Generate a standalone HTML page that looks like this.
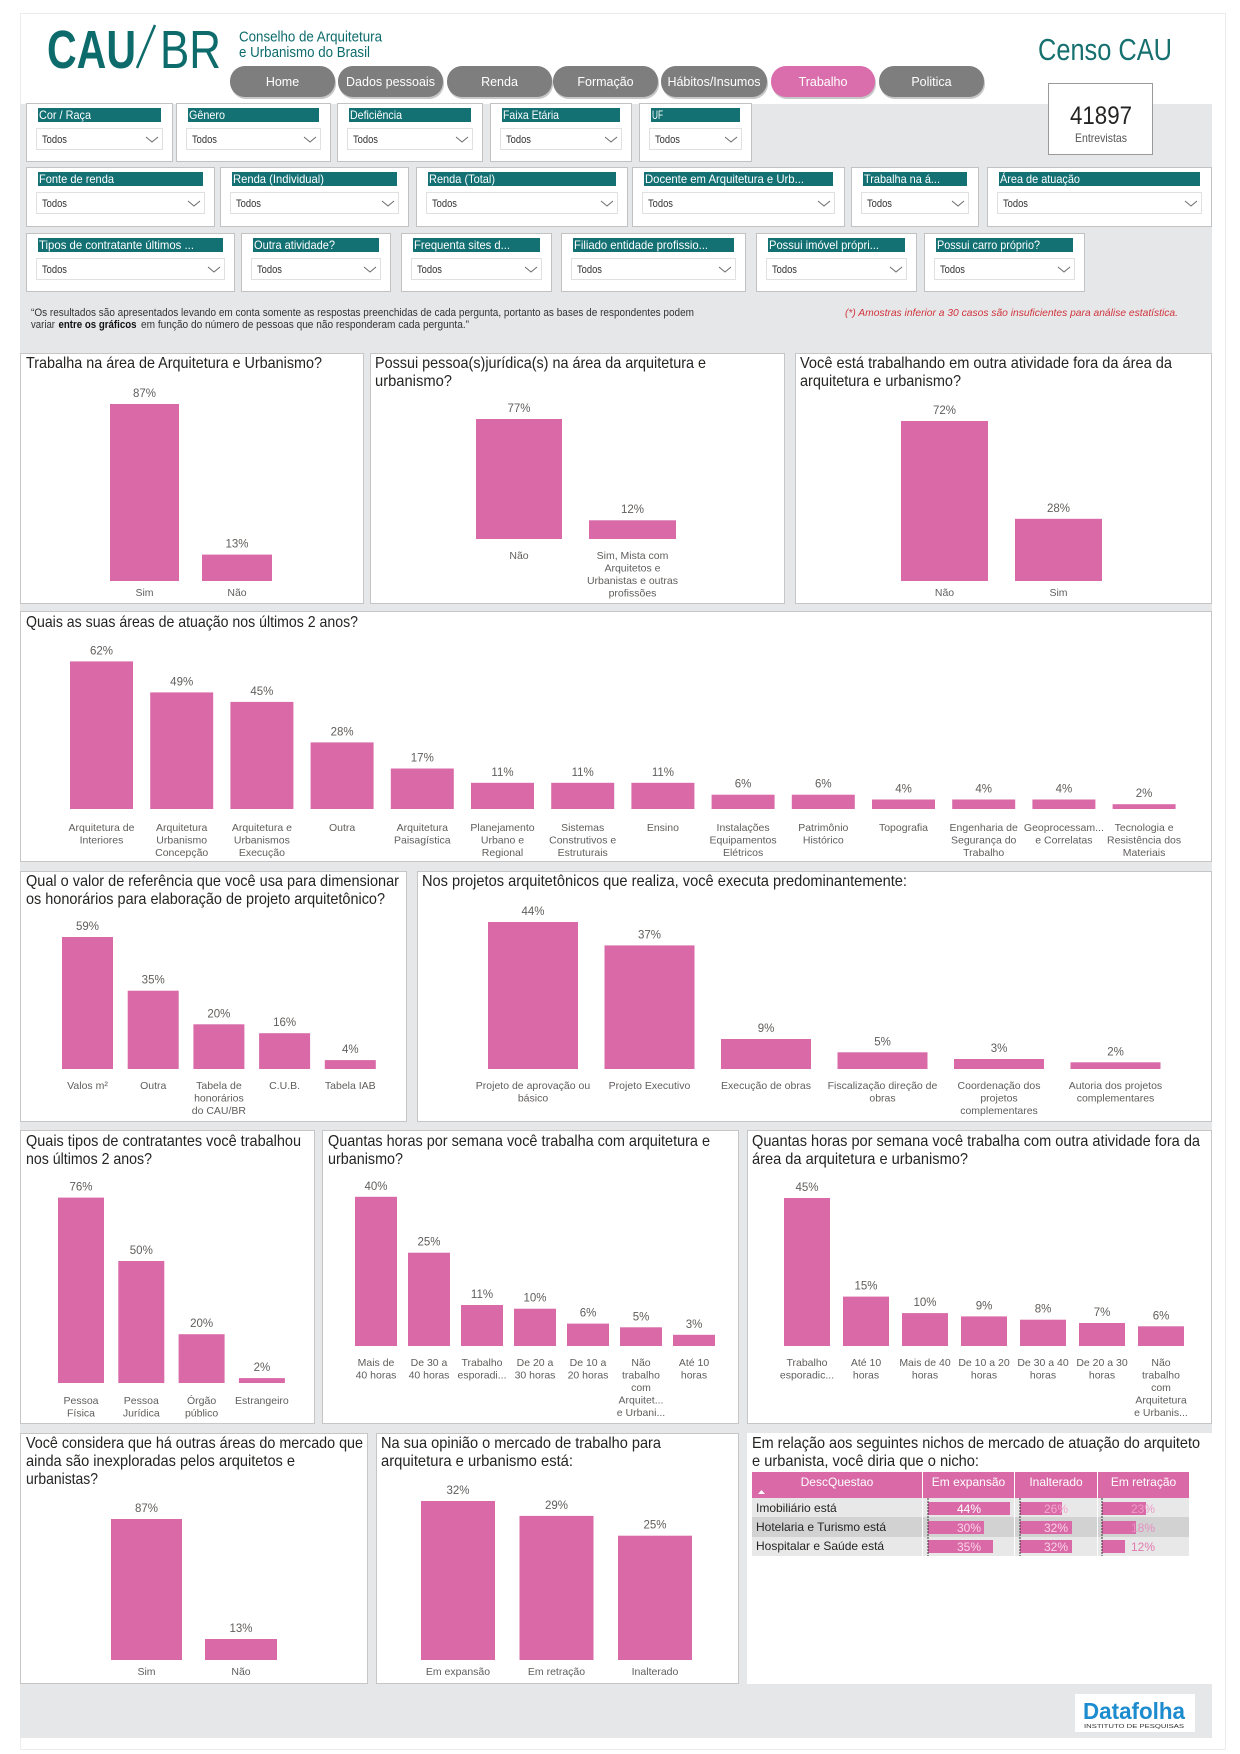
<!DOCTYPE html>
<html><head><meta charset="utf-8">
<style>
html,body{margin:0;padding:0;background:#fff;}
body{width:1240px;height:1754px;overflow:hidden;}
svg{display:block;font-family:"Liberation Sans Narrow","Liberation Sans","DejaVu Sans Condensed",sans-serif;}
.b{fill:#d96aa7;}
.v{font-size:11.5px;fill:#605e5c;text-anchor:middle;}
.c{font-size:10.5px;fill:#605e5c;text-anchor:middle;}
.t{font-size:16px;fill:#252423;}
.p{fill:#fff;stroke:#c6c6c6;stroke-width:1;}
.fb{fill:#fff;stroke:#c2c2c2;}
.fh{fill:#137073;}
.ft{font-size:12px;fill:#fff;}
.fdd{fill:#fff;stroke:#e0e0e0;}
.fd{font-size:11px;fill:#333;}
.ch{fill:none;stroke:#6a6a6a;stroke-width:1;}
.tab{fill:#7e7e7e;}
.tabs{fill:#000;opacity:.22;}
.tt{font-size:12.5px;fill:#fff;text-anchor:middle;}
.th{font-size:12px;fill:#fff;text-anchor:middle;}
.tr{font-size:12px;fill:#252423;}
.tv{font-size:12px;text-anchor:middle;}
</style></head>
<body>
<svg width="1240" height="1754" viewBox="0 0 1240 1754" xmlns="http://www.w3.org/2000/svg">
<rect width="1240" height="1754" fill="#fff"/>
<rect x="20.5" y="13.5" width="1205" height="1736" fill="none" stroke="#ececec"/>
<rect x="20" y="104" width="1192" height="1634" fill="#e6e7e9"/>

<!-- Logo -->
<text x="47" y="68" font-size="54" font-weight="bold" fill="#0d6b6b" textLength="89" lengthAdjust="spacingAndGlyphs">CAU</text>
<line x1="137" y1="68" x2="155" y2="25" stroke="#0d6b6b" stroke-width="2.5"/>
<text x="160" y="68" font-size="54" fill="#0d6b6b" textLength="61" lengthAdjust="spacingAndGlyphs">BR</text>
<text x="239" y="41.5" font-size="15" fill="#0d6b6b" textLength="143" lengthAdjust="spacingAndGlyphs">Conselho de Arquitetura</text>
<text x="239" y="57" font-size="15" fill="#0d6b6b" textLength="131" lengthAdjust="spacingAndGlyphs">e Urbanismo do Brasil</text>

<!-- Tabs -->
<g>
<rect class="tabs" x="231" y="68" width="105" height="31" rx="15"/><rect class="tab" x="230" y="66" width="105" height="31" rx="15"/><text class="tt" x="282.5" y="86">Home</text>
<rect class="tabs" x="339" y="68" width="105" height="31" rx="15"/><rect class="tab" x="338" y="66" width="105" height="31" rx="15"/><text class="tt" x="390.5" y="86">Dados pessoais</text>
<rect class="tabs" x="448" y="68" width="105" height="31" rx="15"/><rect class="tab" x="447" y="66" width="105" height="31" rx="15"/><text class="tt" x="499.5" y="86">Renda</text>
<rect class="tabs" x="554" y="68" width="105" height="31" rx="15"/><rect class="tab" x="553" y="66" width="105" height="31" rx="15"/><text class="tt" x="605.5" y="86">Formação</text>
<rect class="tabs" x="662" y="68" width="106" height="31" rx="15"/><rect class="tab" x="661" y="66" width="106" height="31" rx="15"/><text class="tt" x="714" y="86">Hábitos/Insumos</text>
<rect class="tabs" x="772" y="68" width="104" height="31" rx="15"/><rect x="771" y="66" width="104" height="31" rx="15" fill="#da6dab"/><text class="tt" x="823" y="86">Trabalho</text>
<rect class="tabs" x="880" y="68" width="105" height="31" rx="15"/><rect class="tab" x="879" y="66" width="105" height="31" rx="15"/><text class="tt" x="931.5" y="86">Politica</text>
</g>

<!-- Censo CAU -->
<text x="1038" y="60" font-size="31" fill="#16706f" textLength="134" lengthAdjust="spacingAndGlyphs">Censo CAU</text>
<rect x="1048.5" y="83.5" width="104" height="71" fill="#fff" stroke="#9a9a9a"/>
<text x="1070" y="124" font-size="25" fill="#252423" textLength="62" lengthAdjust="spacingAndGlyphs">41897</text>
<text x="1075" y="142" font-size="12" fill="#555" textLength="52" lengthAdjust="spacingAndGlyphs">Entrevistas</text>

<!-- Filters row 1 -->
<g transform="translate(26,103)"><rect class="fb" x=".5" y=".5" width="146" height="58"/><rect class="fh" x="12" y="5" width="123" height="14"/><text class="ft" x="13" y="16" textLength="52" lengthAdjust="spacingAndGlyphs">Cor / Raça</text><rect class="fdd" x="10.5" y="25.5" width="126" height="21"/><text class="fd" x="16" y="40" textLength="25" lengthAdjust="spacingAndGlyphs">Todos</text><path class="ch" d="M120 34 l6 5 l6 -5"/></g>
<g transform="translate(176,103)"><rect class="fb" x=".5" y=".5" width="154" height="58"/><rect class="fh" x="12" y="5" width="131" height="14"/><text class="ft" x="13" y="16" textLength="36" lengthAdjust="spacingAndGlyphs">Gênero</text><rect class="fdd" x="10.5" y="25.5" width="134" height="21"/><text class="fd" x="16" y="40" textLength="25" lengthAdjust="spacingAndGlyphs">Todos</text><path class="ch" d="M128 34 l6 5 l6 -5"/></g>
<g transform="translate(337,103)"><rect class="fb" x=".5" y=".5" width="145" height="58"/><rect class="fh" x="12" y="5" width="122" height="14"/><text class="ft" x="13" y="16" textLength="52" lengthAdjust="spacingAndGlyphs">Deficiência</text><rect class="fdd" x="10.5" y="25.5" width="125" height="21"/><text class="fd" x="16" y="40" textLength="25" lengthAdjust="spacingAndGlyphs">Todos</text><path class="ch" d="M119 34 l6 5 l6 -5"/></g>
<g transform="translate(490,103)"><rect class="fb" x=".5" y=".5" width="141" height="58"/><rect class="fh" x="12" y="5" width="118" height="14"/><text class="ft" x="13" y="16" textLength="56" lengthAdjust="spacingAndGlyphs">Faixa Etária</text><rect class="fdd" x="10.5" y="25.5" width="121" height="21"/><text class="fd" x="16" y="40" textLength="25" lengthAdjust="spacingAndGlyphs">Todos</text><path class="ch" d="M115 34 l6 5 l6 -5"/></g>
<g transform="translate(639,103)"><rect class="fb" x=".5" y=".5" width="112" height="58"/><rect class="fh" x="12" y="5" width="89" height="14"/><text class="ft" x="13" y="16" textLength="11" lengthAdjust="spacingAndGlyphs">UF</text><rect class="fdd" x="10.5" y="25.5" width="92" height="21"/><text class="fd" x="16" y="40" textLength="25" lengthAdjust="spacingAndGlyphs">Todos</text><path class="ch" d="M86 34 l6 5 l6 -5"/></g>

<!-- Filters row 2 -->
<g transform="translate(26,167)"><rect class="fb" x=".5" y=".5" width="188" height="59"/><rect class="fh" x="12" y="5" width="165" height="14"/><text class="ft" x="13" y="16" textLength="75" lengthAdjust="spacingAndGlyphs">Fonte de renda</text><rect class="fdd" x="10.5" y="25.5" width="168" height="21"/><text class="fd" x="16" y="40" textLength="25" lengthAdjust="spacingAndGlyphs">Todos</text><path class="ch" d="M162 34 l6 5 l6 -5"/></g>
<g transform="translate(220,167)"><rect class="fb" x=".5" y=".5" width="188" height="59"/><rect class="fh" x="12" y="5" width="165" height="14"/><text class="ft" x="13" y="16" textLength="91" lengthAdjust="spacingAndGlyphs">Renda (Individual)</text><rect class="fdd" x="10.5" y="25.5" width="168" height="21"/><text class="fd" x="16" y="40" textLength="25" lengthAdjust="spacingAndGlyphs">Todos</text><path class="ch" d="M162 34 l6 5 l6 -5"/></g>
<g transform="translate(416,167)"><rect class="fb" x=".5" y=".5" width="211" height="59"/><rect class="fh" x="12" y="5" width="188" height="14"/><text class="ft" x="13" y="16" textLength="66" lengthAdjust="spacingAndGlyphs">Renda (Total)</text><rect class="fdd" x="10.5" y="25.5" width="191" height="21"/><text class="fd" x="16" y="40" textLength="25" lengthAdjust="spacingAndGlyphs">Todos</text><path class="ch" d="M185 34 l6 5 l6 -5"/></g>
<g transform="translate(632,167)"><rect class="fb" x=".5" y=".5" width="212" height="59"/><rect class="fh" x="12" y="5" width="189" height="14"/><text class="ft" x="13" y="16" textLength="159" lengthAdjust="spacingAndGlyphs">Docente em Arquitetura e Urb...</text><rect class="fdd" x="10.5" y="25.5" width="192" height="21"/><text class="fd" x="16" y="40" textLength="25" lengthAdjust="spacingAndGlyphs">Todos</text><path class="ch" d="M186 34 l6 5 l6 -5"/></g>
<g transform="translate(851,167)"><rect class="fb" x=".5" y=".5" width="127" height="59"/><rect class="fh" x="12" y="5" width="104" height="14"/><text class="ft" x="13" y="16" textLength="76" lengthAdjust="spacingAndGlyphs">Trabalha na á...</text><rect class="fdd" x="10.5" y="25.5" width="107" height="21"/><text class="fd" x="16" y="40" textLength="25" lengthAdjust="spacingAndGlyphs">Todos</text><path class="ch" d="M101 34 l6 5 l6 -5"/></g>
<g transform="translate(987,167)"><rect class="fb" x=".5" y=".5" width="224" height="59"/><rect class="fh" x="12" y="5" width="201" height="14"/><text class="ft" x="13" y="16" textLength="80" lengthAdjust="spacingAndGlyphs">Área de atuação</text><rect class="fdd" x="10.5" y="25.5" width="204" height="21"/><text class="fd" x="16" y="40" textLength="25" lengthAdjust="spacingAndGlyphs">Todos</text><path class="ch" d="M198 34 l6 5 l6 -5"/></g>

<!-- Filters row 3 -->
<g transform="translate(26,233)"><rect class="fb" x=".5" y=".5" width="208" height="58"/><rect class="fh" x="12" y="5" width="185" height="14"/><text class="ft" x="13" y="16" textLength="155" lengthAdjust="spacingAndGlyphs">Tipos de contratante últimos ...</text><rect class="fdd" x="10.5" y="25.5" width="188" height="21"/><text class="fd" x="16" y="40" textLength="25" lengthAdjust="spacingAndGlyphs">Todos</text><path class="ch" d="M182 34 l6 5 l6 -5"/></g>
<g transform="translate(241,233)"><rect class="fb" x=".5" y=".5" width="149" height="58"/><rect class="fh" x="12" y="5" width="126" height="14"/><text class="ft" x="13" y="16" textLength="81" lengthAdjust="spacingAndGlyphs">Outra atividade?</text><rect class="fdd" x="10.5" y="25.5" width="129" height="21"/><text class="fd" x="16" y="40" textLength="25" lengthAdjust="spacingAndGlyphs">Todos</text><path class="ch" d="M123 34 l6 5 l6 -5"/></g>
<g transform="translate(401,233)"><rect class="fb" x=".5" y=".5" width="150" height="58"/><rect class="fh" x="12" y="5" width="127" height="14"/><text class="ft" x="13" y="16" textLength="96" lengthAdjust="spacingAndGlyphs">Frequenta sites d...</text><rect class="fdd" x="10.5" y="25.5" width="130" height="21"/><text class="fd" x="16" y="40" textLength="25" lengthAdjust="spacingAndGlyphs">Todos</text><path class="ch" d="M124 34 l6 5 l6 -5"/></g>
<g transform="translate(561,233)"><rect class="fb" x=".5" y=".5" width="184" height="58"/><rect class="fh" x="12" y="5" width="161" height="14"/><text class="ft" x="13" y="16" textLength="134" lengthAdjust="spacingAndGlyphs">Filiado entidade profissio...</text><rect class="fdd" x="10.5" y="25.5" width="164" height="21"/><text class="fd" x="16" y="40" textLength="25" lengthAdjust="spacingAndGlyphs">Todos</text><path class="ch" d="M158 34 l6 5 l6 -5"/></g>
<g transform="translate(756,233)"><rect class="fb" x=".5" y=".5" width="160" height="58"/><rect class="fh" x="12" y="5" width="137" height="14"/><text class="ft" x="13" y="16" textLength="110" lengthAdjust="spacingAndGlyphs">Possui imóvel própri...</text><rect class="fdd" x="10.5" y="25.5" width="140" height="21"/><text class="fd" x="16" y="40" textLength="25" lengthAdjust="spacingAndGlyphs">Todos</text><path class="ch" d="M134 34 l6 5 l6 -5"/></g>
<g transform="translate(924,233)"><rect class="fb" x=".5" y=".5" width="160" height="58"/><rect class="fh" x="12" y="5" width="137" height="14"/><text class="ft" x="13" y="16" textLength="103" lengthAdjust="spacingAndGlyphs">Possui carro próprio?</text><rect class="fdd" x="10.5" y="25.5" width="140" height="21"/><text class="fd" x="16" y="40" textLength="25" lengthAdjust="spacingAndGlyphs">Todos</text><path class="ch" d="M134 34 l6 5 l6 -5"/></g>

<!-- Footnote -->
<text x="31" y="316" font-size="11" fill="#333" textLength="663" lengthAdjust="spacingAndGlyphs">“Os resultados são apresentados levando em conta somente as respostas preenchidas de cada pergunta, portanto as bases de respondentes podem</text>
<text x="31" y="328" font-size="11" fill="#333" textLength="24" lengthAdjust="spacingAndGlyphs">variar</text>
<text x="58.5" y="328" font-size="11" fill="#111" font-weight="bold" textLength="78" lengthAdjust="spacingAndGlyphs">entre os gráficos</text>
<text x="141" y="328" font-size="11" fill="#333" textLength="328" lengthAdjust="spacingAndGlyphs">em função do número de pessoas que não responderam cada pergunta.”</text>
<text x="845" y="316" font-size="10.5" font-style="italic" fill="#d0343c" textLength="333" lengthAdjust="spacingAndGlyphs">(*) Amostras inferior a 30 casos são insuficientes para análise estatística.</text>

<!-- Panels -->
<rect class="p" x="20.5" y="353.5" width="343" height="250"/>
<rect class="p" x="370.5" y="353.5" width="414" height="250"/>
<rect class="p" x="795.5" y="353.5" width="416" height="250"/>
<rect class="p" x="20.5" y="611.5" width="1191" height="250"/>
<rect class="p" x="20.5" y="871.5" width="386" height="250"/>
<rect class="p" x="417.5" y="871.5" width="794" height="250"/>
<rect class="p" x="20.5" y="1130.5" width="294" height="293"/>
<rect class="p" x="322.5" y="1130.5" width="416" height="293"/>
<rect class="p" x="747.5" y="1130.5" width="464" height="293"/>
<rect class="p" x="20.5" y="1433.5" width="347" height="250"/>
<rect class="p" x="376.5" y="1433.5" width="362" height="250"/>
<rect x="747" y="1433" width="465" height="251" fill="#fff"/>

<!-- Titles -->
<text class="t" x="26" y="368" textLength="296" lengthAdjust="spacingAndGlyphs">Trabalha na área de Arquitetura e Urbanismo?</text>
<text class="t" x="375" y="368" textLength="331" lengthAdjust="spacingAndGlyphs">Possui pessoa(s)jurídica(s) na área da arquitetura e</text>
<text class="t" x="375" y="386" textLength="77" lengthAdjust="spacingAndGlyphs">urbanismo?</text>
<text class="t" x="800" y="368" textLength="372" lengthAdjust="spacingAndGlyphs">Você está trabalhando em outra atividade fora da área da</text>
<text class="t" x="800" y="386" textLength="161" lengthAdjust="spacingAndGlyphs">arquitetura e urbanismo?</text>
<text class="t" x="26" y="627" textLength="332" lengthAdjust="spacingAndGlyphs">Quais as suas áreas de atuação nos últimos 2 anos?</text>
<text class="t" x="26" y="886" textLength="373" lengthAdjust="spacingAndGlyphs">Qual o valor de referência que você usa para dimensionar</text>
<text class="t" x="26" y="904" textLength="359" lengthAdjust="spacingAndGlyphs">os honorários para elaboração de projeto arquitetônico?</text>
<text class="t" x="422" y="886" textLength="485" lengthAdjust="spacingAndGlyphs">Nos projetos arquitetônicos que realiza, você executa predominantemente:</text>
<text class="t" x="26" y="1146" textLength="275" lengthAdjust="spacingAndGlyphs">Quais tipos de contratantes você trabalhou</text>
<text class="t" x="26" y="1164" textLength="126" lengthAdjust="spacingAndGlyphs">nos últimos 2 anos?</text>
<text class="t" x="328" y="1146" textLength="382" lengthAdjust="spacingAndGlyphs">Quantas horas por semana você trabalha com arquitetura e</text>
<text class="t" x="328" y="1164" textLength="75" lengthAdjust="spacingAndGlyphs">urbanismo?</text>
<text class="t" x="752" y="1146" textLength="448" lengthAdjust="spacingAndGlyphs">Quantas horas por semana você trabalha com outra atividade fora da</text>
<text class="t" x="752" y="1164" textLength="216" lengthAdjust="spacingAndGlyphs">área da arquitetura e urbanismo?</text>
<text class="t" x="26" y="1448" textLength="337" lengthAdjust="spacingAndGlyphs">Você considera que há outras áreas do mercado que</text>
<text class="t" x="26" y="1466" textLength="269" lengthAdjust="spacingAndGlyphs">ainda são inexploradas pelos arquitetos e</text>
<text class="t" x="26" y="1484" textLength="72" lengthAdjust="spacingAndGlyphs">urbanistas?</text>
<text class="t" x="381" y="1448" textLength="280" lengthAdjust="spacingAndGlyphs">Na sua opinião o mercado de trabalho para</text>
<text class="t" x="381" y="1466" textLength="192" lengthAdjust="spacingAndGlyphs">arquitetura e urbanismo está:</text>
<text class="t" x="752" y="1448" textLength="448" lengthAdjust="spacingAndGlyphs">Em relação aos seguintes nichos de mercado de atuação do arquiteto</text>
<text class="t" x="752" y="1466" textLength="227" lengthAdjust="spacingAndGlyphs">e urbanista, você diria que o nicho:</text>

<!-- Row A chart 1 -->
<rect class="b" x="110" y="404" width="69" height="177"/><text class="v" x="144.5" y="397">87%</text>
<rect class="b" x="202" y="554.6" width="70" height="26.4"/><text class="v" x="237" y="547.6">13%</text>
<text class="c" x="144.5" y="596">Sim</text><text class="c" x="237" y="596">Não</text>

<!-- Row A chart 2 -->
<rect class="b" x="476" y="419" width="86" height="120"/><text class="v" x="519" y="412">77%</text>
<rect class="b" x="589" y="520.3" width="87" height="18.7"/><text class="v" x="632.5" y="513">12%</text>
<text class="c" x="519" y="559">Não</text>
<text class="c" x="632.5" y="559">Sim, Mista com</text>
<text class="c" x="632.5" y="571.5">Arquitetos e</text>
<text class="c" x="632.5" y="584">Urbanistas e outras</text>
<text class="c" x="632.5" y="596.5">profissões</text>

<!-- Row A chart 3 -->
<rect class="b" x="901" y="421" width="87" height="160"/><text class="v" x="944.5" y="414">72%</text>
<rect class="b" x="1015" y="518.8" width="87" height="62.2"/><text class="v" x="1058.5" y="512">28%</text>
<text class="c" x="944.5" y="596">Não</text><text class="c" x="1058.5" y="596">Sim</text>

<!-- Row B -->
<rect class="b" x="70" y="661.4" width="63" height="147.6"/><text class="v" x="101.5" y="654.4">62%</text>
<rect class="b" x="150.2" y="692.4" width="63" height="116.6"/><text class="v" x="181.7" y="685.4">49%</text>
<rect class="b" x="230.4" y="701.9" width="63" height="107.1"/><text class="v" x="261.9" y="694.9">45%</text>
<rect class="b" x="310.6" y="742.4" width="63" height="66.6"/><text class="v" x="342.1" y="735.4">28%</text>
<rect class="b" x="390.8" y="768.5" width="63" height="40.5"/><text class="v" x="422.3" y="761.5">17%</text>
<rect class="b" x="471" y="782.8" width="63" height="26.2"/><text class="v" x="502.5" y="775.8">11%</text>
<rect class="b" x="551.2" y="782.8" width="63" height="26.2"/><text class="v" x="582.7" y="775.8">11%</text>
<rect class="b" x="631.4" y="782.8" width="63" height="26.2"/><text class="v" x="662.9" y="775.8">11%</text>
<rect class="b" x="711.6" y="794.7" width="63" height="14.3"/><text class="v" x="743.1" y="787.7">6%</text>
<rect class="b" x="791.8" y="794.7" width="63" height="14.3"/><text class="v" x="823.3" y="787.7">6%</text>
<rect class="b" x="872" y="799.5" width="63" height="9.5"/><text class="v" x="903.5" y="792.5">4%</text>
<rect class="b" x="952.2" y="799.5" width="63" height="9.5"/><text class="v" x="983.7" y="792.5">4%</text>
<rect class="b" x="1032.4" y="799.5" width="63" height="9.5"/><text class="v" x="1063.9" y="792.5">4%</text>
<rect class="b" x="1112.6" y="804.2" width="63" height="4.8"/><text class="v" x="1144.1" y="797.2">2%</text>
<g class="c">
<text class="c" x="101.5" y="831">Arquitetura de</text><text class="c" x="101.5" y="843.5">Interiores</text>
<text class="c" x="181.7" y="831">Arquitetura</text><text class="c" x="181.7" y="843.5">Urbanismo</text><text class="c" x="181.7" y="856">Concepção</text>
<text class="c" x="261.9" y="831">Arquitetura e</text><text class="c" x="261.9" y="843.5">Urbanismos</text><text class="c" x="261.9" y="856">Execução</text>
<text class="c" x="342.1" y="831">Outra</text>
<text class="c" x="422.3" y="831">Arquitetura</text><text class="c" x="422.3" y="843.5">Paisagística</text>
<text class="c" x="502.5" y="831">Planejamento</text><text class="c" x="502.5" y="843.5">Urbano e</text><text class="c" x="502.5" y="856">Regional</text>
<text class="c" x="582.7" y="831">Sistemas</text><text class="c" x="582.7" y="843.5">Construtivos e</text><text class="c" x="582.7" y="856">Estruturais</text>
<text class="c" x="662.9" y="831">Ensino</text>
<text class="c" x="743.1" y="831">Instalações</text><text class="c" x="743.1" y="843.5">Equipamentos</text><text class="c" x="743.1" y="856">Elétricos</text>
<text class="c" x="823.3" y="831">Patrimônio</text><text class="c" x="823.3" y="843.5">Histórico</text>
<text class="c" x="903.5" y="831">Topografia</text>
<text class="c" x="983.7" y="831">Engenharia de</text><text class="c" x="983.7" y="843.5">Segurança do</text><text class="c" x="983.7" y="856">Trabalho</text>
<text class="c" x="1063.9" y="831">Geoprocessam...</text><text class="c" x="1063.9" y="843.5">e Correlatas</text>
<text class="c" x="1144.1" y="831">Tecnologia e</text><text class="c" x="1144.1" y="843.5">Resistência dos</text><text class="c" x="1144.1" y="856">Materiais</text>
</g>

<!-- Row C left -->
<rect class="b" x="62" y="937" width="51" height="132"/><text class="v" x="87.5" y="930">59%</text>
<rect class="b" x="127.7" y="990.7" width="51" height="78.3"/><text class="v" x="153.2" y="983.7">35%</text>
<rect class="b" x="193.4" y="1024.3" width="51" height="44.7"/><text class="v" x="218.9" y="1017.3">20%</text>
<rect class="b" x="259.1" y="1033.2" width="51" height="35.8"/><text class="v" x="284.6" y="1026.2">16%</text>
<rect class="b" x="324.8" y="1060.1" width="51" height="8.9"/><text class="v" x="350.3" y="1053.1">4%</text>
<text class="c" x="87.5" y="1089">Valos m²</text>
<text class="c" x="153.2" y="1089">Outra</text>
<text class="c" x="218.9" y="1089">Tabela de</text><text class="c" x="218.9" y="1101.5">honorários</text><text class="c" x="218.9" y="1114">do CAU/BR</text>
<text class="c" x="284.6" y="1089">C.U.B.</text>
<text class="c" x="350.3" y="1089">Tabela IAB</text>

<!-- Row C right -->
<rect class="b" x="488" y="922" width="90" height="147"/><text class="v" x="533" y="915">44%</text>
<rect class="b" x="604.5" y="945.4" width="90" height="123.6"/><text class="v" x="649.5" y="938.4">37%</text>
<rect class="b" x="721" y="1039" width="90" height="30"/><text class="v" x="766" y="1032">9%</text>
<rect class="b" x="837.5" y="1052.3" width="90" height="16.7"/><text class="v" x="882.5" y="1045.3">5%</text>
<rect class="b" x="954" y="1059" width="90" height="10"/><text class="v" x="999" y="1052">3%</text>
<rect class="b" x="1070.5" y="1062.3" width="90" height="6.7"/><text class="v" x="1115.5" y="1055.3">2%</text>
<text class="c" x="533" y="1089">Projeto de aprovação ou</text><text class="c" x="533" y="1101.5">básico</text>
<text class="c" x="649.5" y="1089">Projeto Executivo</text>
<text class="c" x="766" y="1089">Execução de obras</text>
<text class="c" x="882.5" y="1089">Fiscalização direção de</text><text class="c" x="882.5" y="1101.5">obras</text>
<text class="c" x="999" y="1089">Coordenação dos</text><text class="c" x="999" y="1101.5">projetos</text><text class="c" x="999" y="1114">complementares</text>
<text class="c" x="1115.5" y="1089">Autoria dos projetos</text><text class="c" x="1115.5" y="1101.5">complementares</text>

<!-- Row D left -->
<rect class="b" x="58" y="1197.6" width="46" height="185.4"/><text class="v" x="81" y="1190.6">76%</text>
<rect class="b" x="118.3" y="1261" width="46" height="122"/><text class="v" x="141.3" y="1254">50%</text>
<rect class="b" x="178.6" y="1334.2" width="46" height="48.8"/><text class="v" x="201.6" y="1327.2">20%</text>
<rect class="b" x="238.9" y="1378.1" width="46" height="4.9"/><text class="v" x="261.9" y="1371.1">2%</text>
<text class="c" x="81" y="1404">Pessoa</text><text class="c" x="81" y="1416.5">Física</text>
<text class="c" x="141.3" y="1404">Pessoa</text><text class="c" x="141.3" y="1416.5">Jurídica</text>
<text class="c" x="201.6" y="1404">Órgão</text><text class="c" x="201.6" y="1416.5">público</text>
<text class="c" x="261.9" y="1404">Estrangeiro</text>

<!-- Row D mid -->
<rect class="b" x="355" y="1196.8" width="42" height="149.2"/><text class="v" x="376" y="1189.8">40%</text>
<rect class="b" x="408" y="1252.7" width="42" height="93.3"/><text class="v" x="429" y="1245.7">25%</text>
<rect class="b" x="461" y="1305" width="42" height="41"/><text class="v" x="482" y="1298">11%</text>
<rect class="b" x="514" y="1308.7" width="42" height="37.3"/><text class="v" x="535" y="1301.7">10%</text>
<rect class="b" x="567" y="1323.6" width="42" height="22.4"/><text class="v" x="588" y="1316.6">6%</text>
<rect class="b" x="620" y="1327.3" width="42" height="18.7"/><text class="v" x="641" y="1320.3">5%</text>
<rect class="b" x="673" y="1334.8" width="42" height="11.2"/><text class="v" x="694" y="1327.8">3%</text>
<text class="c" x="376" y="1366">Mais de</text><text class="c" x="376" y="1378.5">40 horas</text>
<text class="c" x="429" y="1366">De 30 a</text><text class="c" x="429" y="1378.5">40 horas</text>
<text class="c" x="482" y="1366">Trabalho</text><text class="c" x="482" y="1378.5">esporadi...</text>
<text class="c" x="535" y="1366">De 20 a</text><text class="c" x="535" y="1378.5">30 horas</text>
<text class="c" x="588" y="1366">De 10 a</text><text class="c" x="588" y="1378.5">20 horas</text>
<text class="c" x="641" y="1366">Não</text><text class="c" x="641" y="1378.5">trabalho</text><text class="c" x="641" y="1391">com</text><text class="c" x="641" y="1403.5">Arquitet...</text><text class="c" x="641" y="1416">e Urbani...</text>
<text class="c" x="694" y="1366">Até 10</text><text class="c" x="694" y="1378.5">horas</text>

<!-- Row D right -->
<rect class="b" x="784" y="1198" width="46" height="148"/><text class="v" x="807" y="1191">45%</text>
<rect class="b" x="843" y="1296.6" width="46" height="49.4"/><text class="v" x="866" y="1289.6">15%</text>
<rect class="b" x="902" y="1313.1" width="46" height="32.9"/><text class="v" x="925" y="1306.1">10%</text>
<rect class="b" x="961" y="1316.4" width="46" height="29.6"/><text class="v" x="984" y="1309.4">9%</text>
<rect class="b" x="1020" y="1319.7" width="46" height="26.3"/><text class="v" x="1043" y="1312.7">8%</text>
<rect class="b" x="1079" y="1323" width="46" height="23"/><text class="v" x="1102" y="1316">7%</text>
<rect class="b" x="1138" y="1326.3" width="46" height="19.7"/><text class="v" x="1161" y="1319.3">6%</text>
<text class="c" x="807" y="1366">Trabalho</text><text class="c" x="807" y="1378.5">esporadic...</text>
<text class="c" x="866" y="1366">Até 10</text><text class="c" x="866" y="1378.5">horas</text>
<text class="c" x="925" y="1366">Mais de 40</text><text class="c" x="925" y="1378.5">horas</text>
<text class="c" x="984" y="1366">De 10 a 20</text><text class="c" x="984" y="1378.5">horas</text>
<text class="c" x="1043" y="1366">De 30 a 40</text><text class="c" x="1043" y="1378.5">horas</text>
<text class="c" x="1102" y="1366">De 20 a 30</text><text class="c" x="1102" y="1378.5">horas</text>
<text class="c" x="1161" y="1366">Não</text><text class="c" x="1161" y="1378.5">trabalho</text><text class="c" x="1161" y="1391">com</text><text class="c" x="1161" y="1403.5">Arquitetura</text><text class="c" x="1161" y="1416">e Urbanis...</text>

<!-- Row E left -->
<rect class="b" x="111" y="1519" width="71" height="141"/><text class="v" x="146.5" y="1512">87%</text>
<rect class="b" x="205" y="1639" width="72" height="21"/><text class="v" x="241" y="1632">13%</text>
<text class="c" x="146.5" y="1675">Sim</text><text class="c" x="241" y="1675">Não</text>

<!-- Row E mid -->
<rect class="b" x="421" y="1501" width="74" height="159"/><text class="v" x="458" y="1494">32%</text>
<rect class="b" x="519.5" y="1515.9" width="74" height="144.1"/><text class="v" x="556.5" y="1508.9">29%</text>
<rect class="b" x="618" y="1535.7" width="74" height="124.3"/><text class="v" x="655" y="1528.7">25%</text>
<text class="c" x="458" y="1675">Em expansão</text><text class="c" x="556.5" y="1675">Em retração</text><text class="c" x="655" y="1675">Inalterado</text>

<!-- Table -->
<rect x="752" y="1472" width="437" height="26" fill="#d96aa7"/>
<rect x="752" y="1498" width="437" height="19" fill="#e8e8e8"/>
<rect x="752" y="1517" width="437" height="20" fill="#d2d2d2"/>
<rect x="752" y="1537" width="437" height="19" fill="#e8e8e8"/>
<g stroke="#fff" stroke-width="1">
<line x1="922.5" y1="1472" x2="922.5" y2="1556"/><line x1="1014.5" y1="1472" x2="1014.5" y2="1556"/><line x1="1097.5" y1="1472" x2="1097.5" y2="1556"/>
</g>
<text class="th" x="837" y="1486">DescQuestao</text>
<text class="th" x="968.5" y="1486">Em expansão</text>
<text class="th" x="1056" y="1486">Inalterado</text>
<text class="th" x="1143.5" y="1486">Em retração</text>
<path d="M758 1494 l3.5 -4 l3.5 4 z" fill="#fff"/>
<text class="tr" x="756" y="1512">Imobiliário está</text>
<text class="tr" x="756" y="1531">Hotelaria e Turismo está</text>
<text class="tr" x="756" y="1550">Hospitalar e Saúde está</text>
<rect class="b" x="928" y="1502" width="82" height="13"/>
<rect class="b" x="928" y="1521" width="56" height="13"/>
<rect class="b" x="928" y="1540" width="65" height="13"/>
<rect class="b" x="1020" y="1502" width="42" height="13"/>
<rect class="b" x="1020" y="1521" width="52" height="13"/>
<rect class="b" x="1020" y="1540" width="52" height="13"/>
<rect class="b" x="1102" y="1502" width="44" height="13"/>
<rect class="b" x="1102" y="1521" width="34" height="13"/>
<rect class="b" x="1102" y="1540" width="23" height="13"/>
<g stroke="#333" stroke-width="1" stroke-dasharray="2,1">
<line x1="928" y1="1498" x2="928" y2="1556"/><line x1="1020" y1="1498" x2="1020" y2="1556"/><line x1="1102" y1="1498" x2="1102" y2="1556"/>
</g>
<text class="tv" x="969" y="1513" fill="#fff">44%</text>
<text class="tv" x="969" y="1532" fill="#fbd3e7">30%</text>
<text class="tv" x="969" y="1551" fill="#fbd3e7">35%</text>
<text class="tv" x="1056" y="1513" fill="#f3a9cf">26%</text>
<text class="tv" x="1056" y="1532" fill="#fbd3e7">32%</text>
<text class="tv" x="1056" y="1551" fill="#fbd3e7">32%</text>
<text class="tv" x="1143" y="1513" fill="#eb9dc8">23%</text>
<text class="tv" x="1143" y="1532" fill="#e58fc0">18%</text>
<text class="tv" x="1143" y="1551" fill="#e07aaf">12%</text>

<!-- Datafolha -->
<rect x="1075" y="1694" width="120" height="38" fill="#fff"/>
<text x="1083" y="1719" font-size="23" font-weight="bold" fill="#1c8ccf" textLength="102" lengthAdjust="spacingAndGlyphs">Datafolha</text>
<text x="1084" y="1728" font-size="5" fill="#333" textLength="100" lengthAdjust="spacingAndGlyphs">INSTITUTO DE PESQUISAS</text>
</svg>
</body></html>
